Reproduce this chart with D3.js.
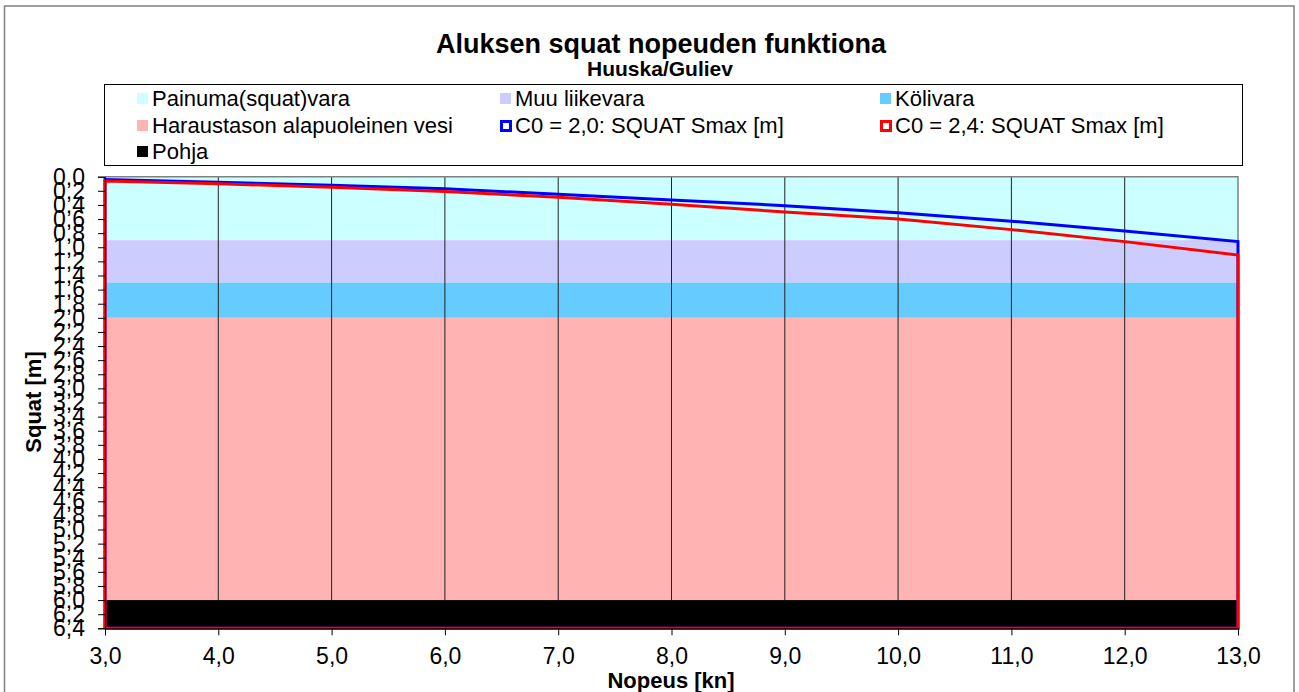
<!DOCTYPE html>
<html>
<head>
<meta charset="utf-8">
<script src="https://cdn.jsdelivr.net/npm/d3@7"></script>
<style>
  body { margin: 0; background: #fff; }
  text { font-family: "Liberation Sans", Arial, sans-serif; }
</style>
</head>
<body>
<div id="chart"></div>
<script>
const width = 1299;
const height = 692;

// speeds (kn) and squat values (m)
const speeds = [3, 4, 5, 6, 7, 8, 9, 10, 11, 12, 13];
const squatC20 = [0.04, 0.08, 0.12, 0.17, 0.25, 0.33, 0.41, 0.51, 0.63, 0.77, 0.92];
const squatC24 = [0.06, 0.10, 0.15, 0.21, 0.29, 0.39, 0.50, 0.60, 0.75, 0.92, 1.11];

// stacked depth bands (top / bottom in m)
const bandNames = ["Painuma(squat)vara", "Muu liikevara", "Kölivara", "Haraustason alapuoleinen vesi", "Pohja"];
const bandTops = [0, 0.9, 1.5, 2.0, 6.0];
const bandBottoms = [0.9, 1.5, 2.0, 6.0, 6.4];
const bandColors = ["#ccffff", "#ccccff", "#66ccff", "#ffb3b3", "#000000"];

const lineNames = ["C0 = 2,0: SQUAT Smax [m]", "C0 = 2,4: SQUAT Smax [m]"];
const lineColors = ["#0000ff", "#ff0000"];

const xTicks = [3, 4, 5, 6, 7, 8, 9, 10, 11, 12, 13];
const yTicks = d3.range(0, 33).map(i => i / 5);

const fmt = d => d.toFixed(1).replace(".", ",");

const plot = { left: 105, right: 1238, top: 176.7, bottom: 628.3 };

const svg = d3.select("#chart").append("svg")
  .attr("width", width)
  .attr("height", height);

// outer chart border
svg.append("rect")
  .attr("x", 4.5).attr("y", 6)
  .attr("width", 1289.5).attr("height", 700)
  .attr("fill", "#fff")
  .attr("stroke", "#808080")
  .attr("stroke-width", 1.5);

const x = d3.scaleLinear().domain([3, 13]).range([plot.left, plot.right]);
const y = d3.scaleLinear().domain([0, 6.4]).range([plot.top, plot.bottom]);

// title
svg.append("text")
  .attr("x", 661).attr("y", 53)
  .attr("text-anchor", "middle")
  .attr("font-size", 27).attr("font-weight", "bold")
  .text("Aluksen squat nopeuden funktiona");
svg.append("text")
  .attr("x", 660).attr("y", 76)
  .attr("text-anchor", "middle")
  .attr("font-size", 21).attr("font-weight", "bold")
  .text("Huuska/Guliev");

// bands
svg.selectAll(".band")
  .data(bandNames)
  .enter().append("rect")
  .attr("class", "band")
  .attr("x", x(3))
  .attr("width", x(13) - x(3))
  .attr("y", (d, i) => y(bandTops[i]))
  .attr("height", (d, i) => y(bandBottoms[i]) - y(bandTops[i]))
  .attr("fill", (d, i) => bandColors[i]);

// vertical gridlines
svg.selectAll(".grid")
  .data(xTicks.slice(1, -1))
  .enter().append("line")
  .attr("x1", d => x(d)).attr("x2", d => x(d))
  .attr("y1", y(0)).attr("y2", y(6.0))
  .attr("stroke", "#222")
  .attr("stroke-width", 1);

// plot border top / right
svg.append("path")
  .attr("d", `M${x(3)},${y(0)}H${x(13)}V${y(6.4)}`)
  .attr("fill", "none")
  .attr("stroke", "#808080")
  .attr("stroke-width", 1.5);

// squat lines, closed down to the bottom like the source
const lineGen = d3.line().x(d => x(d[0])).y(d => y(d[1]));
[squatC20, squatC24].forEach((vals, k) => {
  const pts = [[3, 6.4]].concat(speeds.map((s, i) => [s, vals[i]]), [[13, 6.4], [3, 6.4]]);
  svg.append("path")
    .datum(pts)
    .attr("d", lineGen)
    .attr("fill", "none")
    .attr("stroke", lineColors[k])
    .attr("stroke-width", 3)
    .attr("stroke-linejoin", "miter");
});

// axes
const yAxis = svg.append("g")
  .attr("transform", `translate(${plot.left},0)`)
  .call(d3.axisLeft(y).tickValues(yTicks).tickFormat(fmt).tickSize(7).tickPadding(13));
yAxis.selectAll("text").attr("font-size", 23).attr("font-family", "Liberation Sans, Arial, sans-serif").attr("fill", "#000");
yAxis.select(".domain").attr("stroke", "#000");

const xAxis = svg.append("g")
  .attr("transform", `translate(0,${plot.bottom})`)
  .call(d3.axisBottom(x).tickValues(xTicks).tickFormat(fmt).tickSize(7).tickPadding(12));
xAxis.selectAll("text").attr("font-size", 23).attr("font-family", "Liberation Sans, Arial, sans-serif").attr("fill", "#000");

// axis titles
svg.append("text")
  .attr("x", 671).attr("y", 688)
  .attr("text-anchor", "middle")
  .attr("font-size", 22).attr("font-weight", "bold")
  .text("Nopeus [kn]");
svg.append("text")
  .attr("transform", "translate(41,402) rotate(-90)")
  .attr("text-anchor", "middle")
  .attr("font-size", 22).attr("font-weight", "bold")
  .text("Squat [m]");

// legend
svg.append("rect")
  .attr("x", 104.5).attr("y", 84.5)
  .attr("width", 1138).attr("height", 81)
  .attr("fill", "#fff")
  .attr("stroke", "#000")
  .attr("stroke-width", 1);

const legendItems = [
  { name: bandNames[0], color: bandColors[0], type: "box" },
  { name: bandNames[1], color: bandColors[1], type: "box" },
  { name: bandNames[2], color: bandColors[2], type: "box" },
  { name: bandNames[3], color: bandColors[3], type: "box" },
  { name: lineNames[0], color: lineColors[0], type: "line" },
  { name: lineNames[1], color: lineColors[1], type: "line" },
  { name: bandNames[4], color: bandColors[4], type: "box" }
];
const colX = [137, 500, 880];
const rowY = [98, 125, 151];

const leg = svg.selectAll(".leg")
  .data(legendItems)
  .enter().append("g")
  .attr("transform", (d, i) => `translate(${colX[i % 3]},${rowY[Math.floor(i / 3)]})`);

leg.append("rect")
  .attr("x", d => d.type === "line" ? 1.5 : 0)
  .attr("y", d => d.type === "line" ? -3.5 : -5)
  .attr("width", d => d.type === "line" ? 9 : 11)
  .attr("height", d => d.type === "line" ? 9 : 11)
  .attr("fill", d => d.type === "line" ? "#fff" : d.color)
  .attr("stroke", d => d.type === "line" ? d.color : "none")
  .attr("stroke-width", 3);

leg.append("text")
  .attr("x", 15)
  .attr("y", 8)
  .attr("font-size", 22)
  .text(d => d.name);
</script>
</body>
</html>
